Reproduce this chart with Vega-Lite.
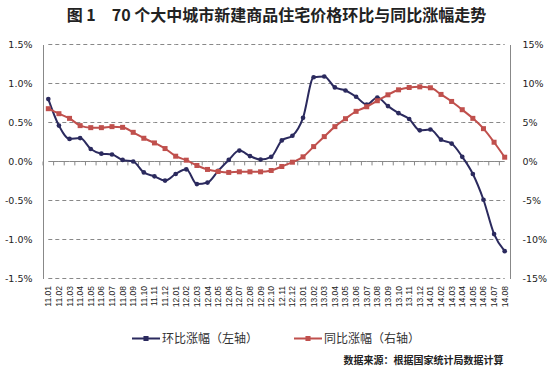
{
  "$schema": "https://vega.github.io/schema/vega-lite/v6.json",
  "width": 467,
  "height": 234,
  "autosize": "none",
  "padding": {"left": 43, "top": 44.5, "right": 45, "bottom": 97.5},
  "background": "white",
  "title": {
    "text": "图 1　70 个大中城市新建商品住宅价格环比与同比涨幅走势",
    "font": "Noto Sans CJK SC",
    "fontSize": 16,
    "fontWeight": "bold",
    "color": "#222",
    "anchor": "middle",
    "offset": 16
  },
  "config": {
    "view": {"stroke": null},
    "font": "DejaVu Sans"
  },
  "data": {
    "values": [
      {"month": "11.01", "mom": 0.80, "yoy": 6.77},
      {"month": "11.02", "mom": 0.46, "yoy": 6.13},
      {"month": "11.03", "mom": 0.29, "yoy": 5.53},
      {"month": "11.04", "mom": 0.30, "yoy": 4.6},
      {"month": "11.05", "mom": 0.16, "yoy": 4.34},
      {"month": "11.06", "mom": 0.10, "yoy": 4.34},
      {"month": "11.07", "mom": 0.09, "yoy": 4.47},
      {"month": "11.08", "mom": 0.02, "yoy": 4.38},
      {"month": "11.09", "mom": 0.00, "yoy": 3.74},
      {"month": "11.10", "mom": -0.14, "yoy": 2.98},
      {"month": "11.11", "mom": -0.19, "yoy": 2.38},
      {"month": "11.12", "mom": -0.245, "yoy": 1.66},
      {"month": "12.01", "mom": -0.16, "yoy": 0.68},
      {"month": "12.02", "mom": -0.10, "yoy": 0.17},
      {"month": "12.03", "mom": -0.29, "yoy": -0.51},
      {"month": "12.04", "mom": -0.27, "yoy": -1.02},
      {"month": "12.05", "mom": -0.12, "yoy": -1.28},
      {"month": "12.06", "mom": 0.02, "yoy": -1.40},
      {"month": "12.07", "mom": 0.14, "yoy": -1.32},
      {"month": "12.08", "mom": 0.07, "yoy": -1.32},
      {"month": "12.09", "mom": 0.025, "yoy": -1.32},
      {"month": "12.10", "mom": 0.06, "yoy": -1.15},
      {"month": "12.11", "mom": 0.27, "yoy": -0.64},
      {"month": "12.12", "mom": 0.33, "yoy": -0.09},
      {"month": "13.01", "mom": 0.56, "yoy": 0.6},
      {"month": "13.02", "mom": 1.08, "yoy": 1.91},
      {"month": "13.03", "mom": 1.09, "yoy": 3.19},
      {"month": "13.04", "mom": 0.95, "yoy": 4.47},
      {"month": "13.05", "mom": 0.91, "yoy": 5.49},
      {"month": "13.06", "mom": 0.83, "yoy": 6.43},
      {"month": "13.07", "mom": 0.73, "yoy": 7.02},
      {"month": "13.08", "mom": 0.82, "yoy": 7.79},
      {"month": "13.09", "mom": 0.71, "yoy": 8.55},
      {"month": "13.10", "mom": 0.62, "yoy": 9.19},
      {"month": "13.11", "mom": 0.545, "yoy": 9.49},
      {"month": "13.12", "mom": 0.40, "yoy": 9.57},
      {"month": "14.01", "mom": 0.41, "yoy": 9.45},
      {"month": "14.02", "mom": 0.28, "yoy": 8.6},
      {"month": "14.03", "mom": 0.23, "yoy": 7.7},
      {"month": "14.04", "mom": 0.06, "yoy": 6.64},
      {"month": "14.05", "mom": -0.16, "yoy": 5.53},
      {"month": "14.06", "mom": -0.49, "yoy": 4.21},
      {"month": "14.07", "mom": -0.93, "yoy": 2.47},
      {"month": "14.08", "mom": -1.15, "yoy": 0.55}
    ]
  },
  "layer": [
    {
      "layer": [
        {
          "mark": {"type": "line", "color": "#888", "strokeWidth": 1, "strokeDash": [4, 3]},
          "encoding": {
            "x": {
              "field": "month",
              "type": "ordinal",
              "scale": {"type": "band", "paddingInner": 0, "paddingOuter": 0},
              "axis": {
                "title": "数据来源：根据国家统计局数据计算",
                "titleFont": "Noto Sans CJK SC",
                "titleFontSize": 10,
                "titleFontWeight": "bold",
                "titleColor": "#222",
                "titleX": 460,
                "titleY": 81.5,
                "titleAlign": "right",
                "titleBaseline": "middle",
                "labelAngle": 270,
                "labelFont": "Liberation Sans",
                "labelFontSize": 8.5,
                "labelColor": "#222",
                "labelPadding": 7,
                "labelBaseline": "middle",
                "labelOverlap": false,
                "domain": false,
                "ticks": false,
                "grid": false
              }
            },
            "y": {
              "datum": 1.5,
              "type": "quantitative",
              "scale": {"domain": [-1.5, 1.5], "nice": false, "zero": false},
              "axis": {
                "title": null,
                "orient": "left",
                "tickCount": 6,
                "labelExpr": "(datum.value < 0 ? '-' : '') + format(abs(datum.value), '.1f') + '%'",
                "grid": false,
                "labelOverlap": false,
                "ticks": false,
                "domainColor": "#888",
                "labelFont": "DejaVu Sans",
                "labelFontSize": 9.5,
                "labelColor": "#222",
                "labelPadding": 11
              }
            }
          }
        },
        {
          "mark": {"type": "line", "color": "#888", "strokeWidth": 1, "strokeDash": [4, 3]},
          "encoding": {
            "x": {"field": "month", "type": "ordinal"},
            "y": {"datum": 1.0, "type": "quantitative"}
          }
        },
        {
          "mark": {"type": "line", "color": "#888", "strokeWidth": 1, "strokeDash": [4, 3]},
          "encoding": {
            "x": {"field": "month", "type": "ordinal"},
            "y": {"datum": 0.5, "type": "quantitative"}
          }
        },
        {
          "mark": {"type": "line", "color": "#888", "strokeWidth": 1, "strokeDash": [4, 3]},
          "encoding": {
            "x": {"field": "month", "type": "ordinal"},
            "y": {"datum": -0.5, "type": "quantitative"}
          }
        },
        {
          "mark": {"type": "line", "color": "#888", "strokeWidth": 1, "strokeDash": [4, 3]},
          "encoding": {
            "x": {"field": "month", "type": "ordinal"},
            "y": {"datum": -1.0, "type": "quantitative"}
          }
        },
        {
          "mark": {"type": "line", "color": "#888", "strokeWidth": 1, "strokeDash": [4, 3]},
          "encoding": {
            "x": {"field": "month", "type": "ordinal"},
            "y": {"datum": -1.5, "type": "quantitative"}
          }
        },
        {
          "mark": {"type": "line", "color": "#888", "strokeWidth": 1},
          "encoding": {
            "x": {"field": "month", "type": "ordinal"},
            "y": {"datum": 0, "type": "quantitative"}
          }
        },
        {
          "mark": {"type": "rule", "color": "#888", "strokeWidth": 1},
          "encoding": {
            "x": {"field": "month", "type": "ordinal", "bandPosition": 0},
            "y": {"datum": 0, "type": "quantitative"},
            "y2": {"datum": -0.05}
          }
        },
        {
          "mark": {"type": "line", "strokeWidth": 2, "interpolate": "monotone"},
          "encoding": {
            "x": {"field": "month", "type": "ordinal"},
            "y": {"field": "mom", "type": "quantitative"},
            "color": {"datum": "环比涨幅（左轴）"}
          }
        },
        {
          "mark": {"type": "point", "shape": "circle", "filled": true, "size": 22, "opacity": 1},
          "encoding": {
            "x": {"field": "month", "type": "ordinal"},
            "y": {"field": "mom", "type": "quantitative"},
            "color": {"datum": "环比涨幅（左轴）"}
          }
        }
      ]
    },
    {
      "layer": [
        {
          "mark": {"type": "line", "strokeWidth": 2, "interpolate": "monotone"},
          "encoding": {
            "x": {"field": "month", "type": "ordinal"},
            "y": {
              "field": "yoy",
              "type": "quantitative",
              "scale": {"domain": [-15, 15], "nice": false, "zero": false},
              "axis": {
                "title": null,
                "orient": "right",
                "grid": false,
                "tickCount": 6,
                "labelExpr": "(datum.value < 0 ? '-' : '') + format(abs(datum.value), 'd') + '%'",
                "labelOverlap": false,
                "ticks": false,
                "domainColor": "#888",
                "labelFont": "DejaVu Sans",
                "labelFontSize": 9.5,
                "labelColor": "#222",
                "labelPadding": 12
              }
            },
            "color": {
              "datum": "同比涨幅（右轴）",
              "scale": {
                "domain": ["环比涨幅（左轴）", "同比涨幅（右轴）"],
                "range": ["#2B2A5E", "#C0504D"]
              },
              "legend": {
                "title": null,
                "orient": "none",
                "legendX": 88,
                "legendY": 279,
                "direction": "horizontal",
                "padding": 0,
                "columnPadding": 31,
                "symbolType": "M-1,0H1M-0.11,-0.11H0.11V0.11H-0.11Z",
                "symbolSize": 784,
                "symbolStrokeWidth": 2,
                "labelFont": "Noto Sans CJK SC",
                "labelFontSize": 12,
                "labelColor": "#333",
                "labelOffset": 1
              }
            }
          }
        },
        {
          "mark": {"type": "point", "shape": "square", "filled": true, "size": 25, "opacity": 1},
          "encoding": {
            "x": {"field": "month", "type": "ordinal"},
            "y": {"field": "yoy", "type": "quantitative"},
            "color": {"datum": "同比涨幅（右轴）"}
          }
        }
      ]
    }
  ],
  "resolve": {"scale": {"y": "independent"}}
}
